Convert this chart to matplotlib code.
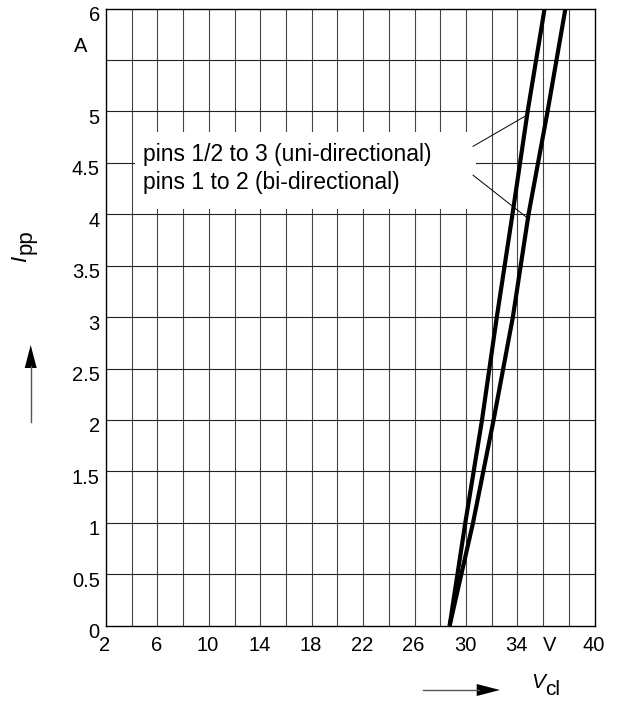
import matplotlib
matplotlib.use("Agg")
import matplotlib.pyplot as plt
from matplotlib.patches import Rectangle, Polygon
from matplotlib.lines import Line2D
from matplotlib.transforms import ScaledTranslation

plt.rcParams['font.family'] = ['Liberation Sans', 'DejaVu Sans']

# Data
ipp_uni = [0, 1, 2, 3, 4, 5, 6]
vcl_uni = [28.73, 29.95, 31.25, 32.4, 33.62, 34.8, 36.12]
ipp_bi = [0, 1, 2, 3, 4, 5, 6]
vcl_bi = [28.73, 30.55, 32.15, 33.65, 34.87, 36.35, 37.74]

x_ticks = [2, 6, 10, 14, 18, 22, 26, 30, 34, 36.55, 40]
x_labels = ['2', '6', '10', '14', '18', '22', '26', '30', '34', 'V', '40']
y_ticks = [0, 0.5, 1, 1.5, 2, 2.5, 3, 3.5, 4, 4.5, 5, 6]
y_labels = ['0', '0.5', '1', '1.5', '2', '2.5', '3', '3.5', '4', '4.5', '5', '6']
legend_lines = ['pins 1/2 to 3 (uni-directional)', 'pins 1 to 2 (bi-directional)']

W, H, DPI = 618, 701, 100
TICK_FS = 14.5
LEG_FS = 16.5
LAB_FS = 16
fig = plt.figure(figsize=(W / DPI, H / DPI), dpi=DPI)
ax = fig.add_axes([106 / W, 1 - 625.7 / H, (594.5 - 106) / W, (625.7 - 8.5) / H])
ax.set_xlim(2, 40)
ax.set_ylim(0, 6)

# grid
for xv in range(4, 40, 2):
    ax.axvline(xv, color='#444444', lw=0.8, zorder=1)
for k in range(1, 12):
    ax.axhline(k * 0.5, color='#222222', lw=0.8, zorder=1)
for s in ax.spines.values():
    s.set_linewidth(1.0)
    s.set_color('black')

# legend box (white, covers grid)
ax.add_patch(Rectangle((4.25, 4.05), 30.75 - 4.25, 4.80 - 4.05, facecolor='white',
                       edgecolor='none', zorder=2))
ax.text(4.87, 4.52, legend_lines[0], fontsize=LEG_FS, va='baseline', ha='left', zorder=3)
ax.text(4.87, 4.245, legend_lines[1], fontsize=LEG_FS, va='baseline', ha='left', zorder=3)
ax.plot([30.55, 34.7], [4.66, 4.96], color='black', lw=0.7, zorder=3)
ax.plot([30.55, 34.82], [4.38, 3.96], color='black', lw=0.7, zorder=3)

# curves
ax.plot(vcl_uni, ipp_uni, color='black', lw=3.0, zorder=4, solid_capstyle='butt')
ax.plot(vcl_bi, ipp_bi, color='black', lw=3.0, zorder=4, solid_capstyle='butt')

ax.set_xticks(x_ticks)
ax.set_xticklabels(x_labels, fontsize=TICK_FS)
ax.set_yticks(y_ticks)
ax.set_yticklabels(y_labels, fontsize=TICK_FS)
ax.tick_params(axis='both', length=0)
ax.tick_params(axis='x', pad=7.5)
ax.tick_params(axis='y', pad=4.5)
off = ScaledTranslation(0, -5 / DPI, fig.dpi_scale_trans)
for lab in ax.get_yticklabels():
    lab.set_transform(lab.get_transform() + off)
offx = ScaledTranslation(-1 / DPI, 0, fig.dpi_scale_trans)
for lab in ax.get_xticklabels():
    lab.set_transform(lab.get_transform() + offx)

# unit "A"
fig.text(81 / W, 1 - 46 / H, 'A', fontsize=TICK_FS, ha='center', va='center')

# axis labels: italic symbol + full-size lowered subscript
fig.text(31 / W, 1 - 262 / H, 'I', fontsize=LAB_FS, style='italic', rotation=90,
         ha='right', va='bottom')
fig.text(37 / W, 1 - 254 / H, 'pp', fontsize=LAB_FS, rotation=90,
         ha='right', va='bottom')
fig.text(531 / W, 1 - 688 / H, 'V', fontsize=15, style='italic', ha='left', va='baseline')
fig.text(545 / W, 1 - 695 / H, 'cl', fontsize=15, ha='left', va='baseline')

# arrows (figure inches)
tr = fig.dpi_scale_trans
def px(x, y):
    return (x / DPI, (H - y) / DPI)
fig.add_artist(Line2D(*zip(px(30.7, 421.7), px(30.7, 366)), color='#555555', lw=1.0, transform=tr))
fig.add_artist(Polygon([px(24.7, 368), px(36.7, 368), px(30.7, 345)], closed=True,
                       facecolor='black', edgecolor='none', transform=tr))
fig.add_artist(Line2D(*zip(px(423.3, 690), px(479, 690)), color='#555555', lw=1.0, transform=tr))
fig.add_artist(Polygon([px(476.7, 684), px(476.7, 696), px(500, 690)], closed=True,
                       facecolor='black', edgecolor='none', transform=tr))

fig.savefig('out.png', dpi=DPI)
